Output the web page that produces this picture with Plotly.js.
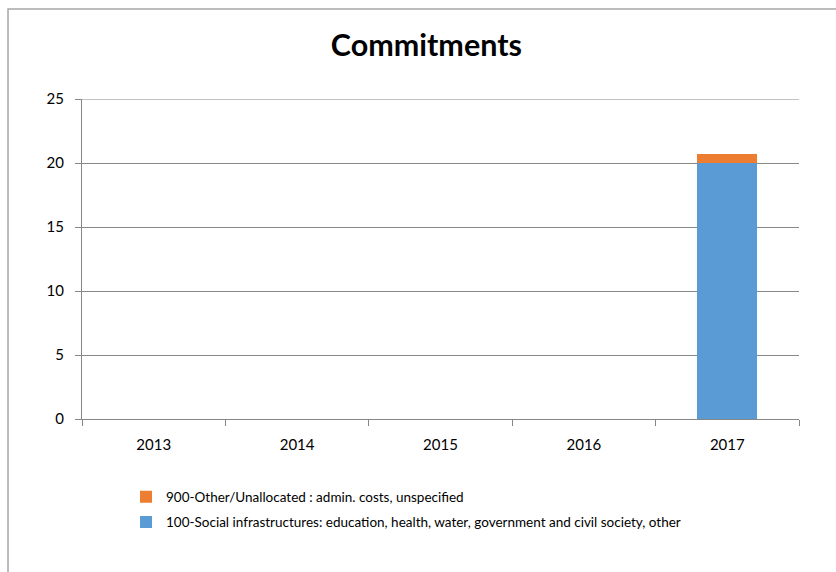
<!DOCTYPE html>
<html>
<head>
<meta charset="utf-8">
<script src="https://cdn.plot.ly/plotly-3.0.1.min.js"></script>
<style>html,body{margin:0;padding:0;background:#fff;}#chart{width:836px;height:572px;}</style>
</head>
<body>
<div id="chart"></div>
<script>
const years = ["2013", "2014", "2015", "2016", "2017"];
const social = [0, 0, 0, 0, 20.0];
const other = [0, 0, 0, 0, 0.7];
const socialName = "100-Social infrastructures: education, health, water, government and civil society, other";
const otherName = "900-Other/Unallocated : admin. costs, unspecified";
const yTicks = [0, 5, 10, 15, 20, 25];

const traces = [
  {type: "bar", x: years, y: social, name: socialName, marker: {color: "#5b9bd5"}, legend: "legend2", hoverinfo: "y"},
  {type: "bar", x: years, y: other, name: otherName, marker: {color: "#ed7d31"}, legend: "legend", hoverinfo: "y"}
];

const yMax = yTicks[yTicks.length - 1];
const fontFam = "Lato, 'Open Sans', sans-serif";
const layout = {
  width: 836, height: 572,
  margin: {l: 82, r: 37, t: 99, b: 153},
  paper_bgcolor: "#fff", plot_bgcolor: "#fff",
  barmode: "stack", bargap: 0.58,
  font: {family: fontFam, size: 15, color: "#000"},
  title: {text: "<b>Commitments</b>", font: {family: fontFam, size: 30.5, color: "#000"}, x: 0.51, xanchor: "center", y: 0.92, yanchor: "middle"},
  xaxis: {type: "category", showline: true, linecolor: "#868686", linewidth: 1, ticks: "outside", tickson: "boundaries", ticklen: 6, tickcolor: "#868686", showgrid: false, ticklabelstandoff: 12, tickfont: {size: 15}},
  yaxis: {range: [0, yMax], tickvals: yTicks, showline: true, linecolor: "#868686", ticks: "outside", ticklen: 6, tickcolor: "#868686", gridcolor: "#888888", gridwidth: 1, zeroline: false, ticklabelstandoff: 8, tickfont: {size: 15}},
  showlegend: true,
  legend: {x: 0.0614, y: -0.195, xanchor: "left", yanchor: "top", font: {size: 13.5, family: fontFam}, bgcolor: "rgba(0,0,0,0)", itemwidth: 30},
  legend2: {x: 0.0614, y: -0.274, xanchor: "left", yanchor: "top", font: {size: 13.5, family: fontFam}, bgcolor: "rgba(0,0,0,0)", itemwidth: 30},
  shapes: [
    {type: "rect", xref: "paper", yref: "paper", x0: -0.1032, x1: 1.2, y0: -0.6, y1: 1.28125, line: {color: "#a6a6a6", width: 1.5}, fillcolor: "rgba(0,0,0,0)", layer: "below"},
    {type: "line", xref: "paper", yref: "y", x0: 0, x1: 1, y0: yMax, y1: yMax, line: {color: "#888888", width: 1}, layer: "below"}
  ]
};
Plotly.newPlot("chart", traces, layout, {displayModeBar: false, staticPlot: true});
</script>
</body>
</html>
